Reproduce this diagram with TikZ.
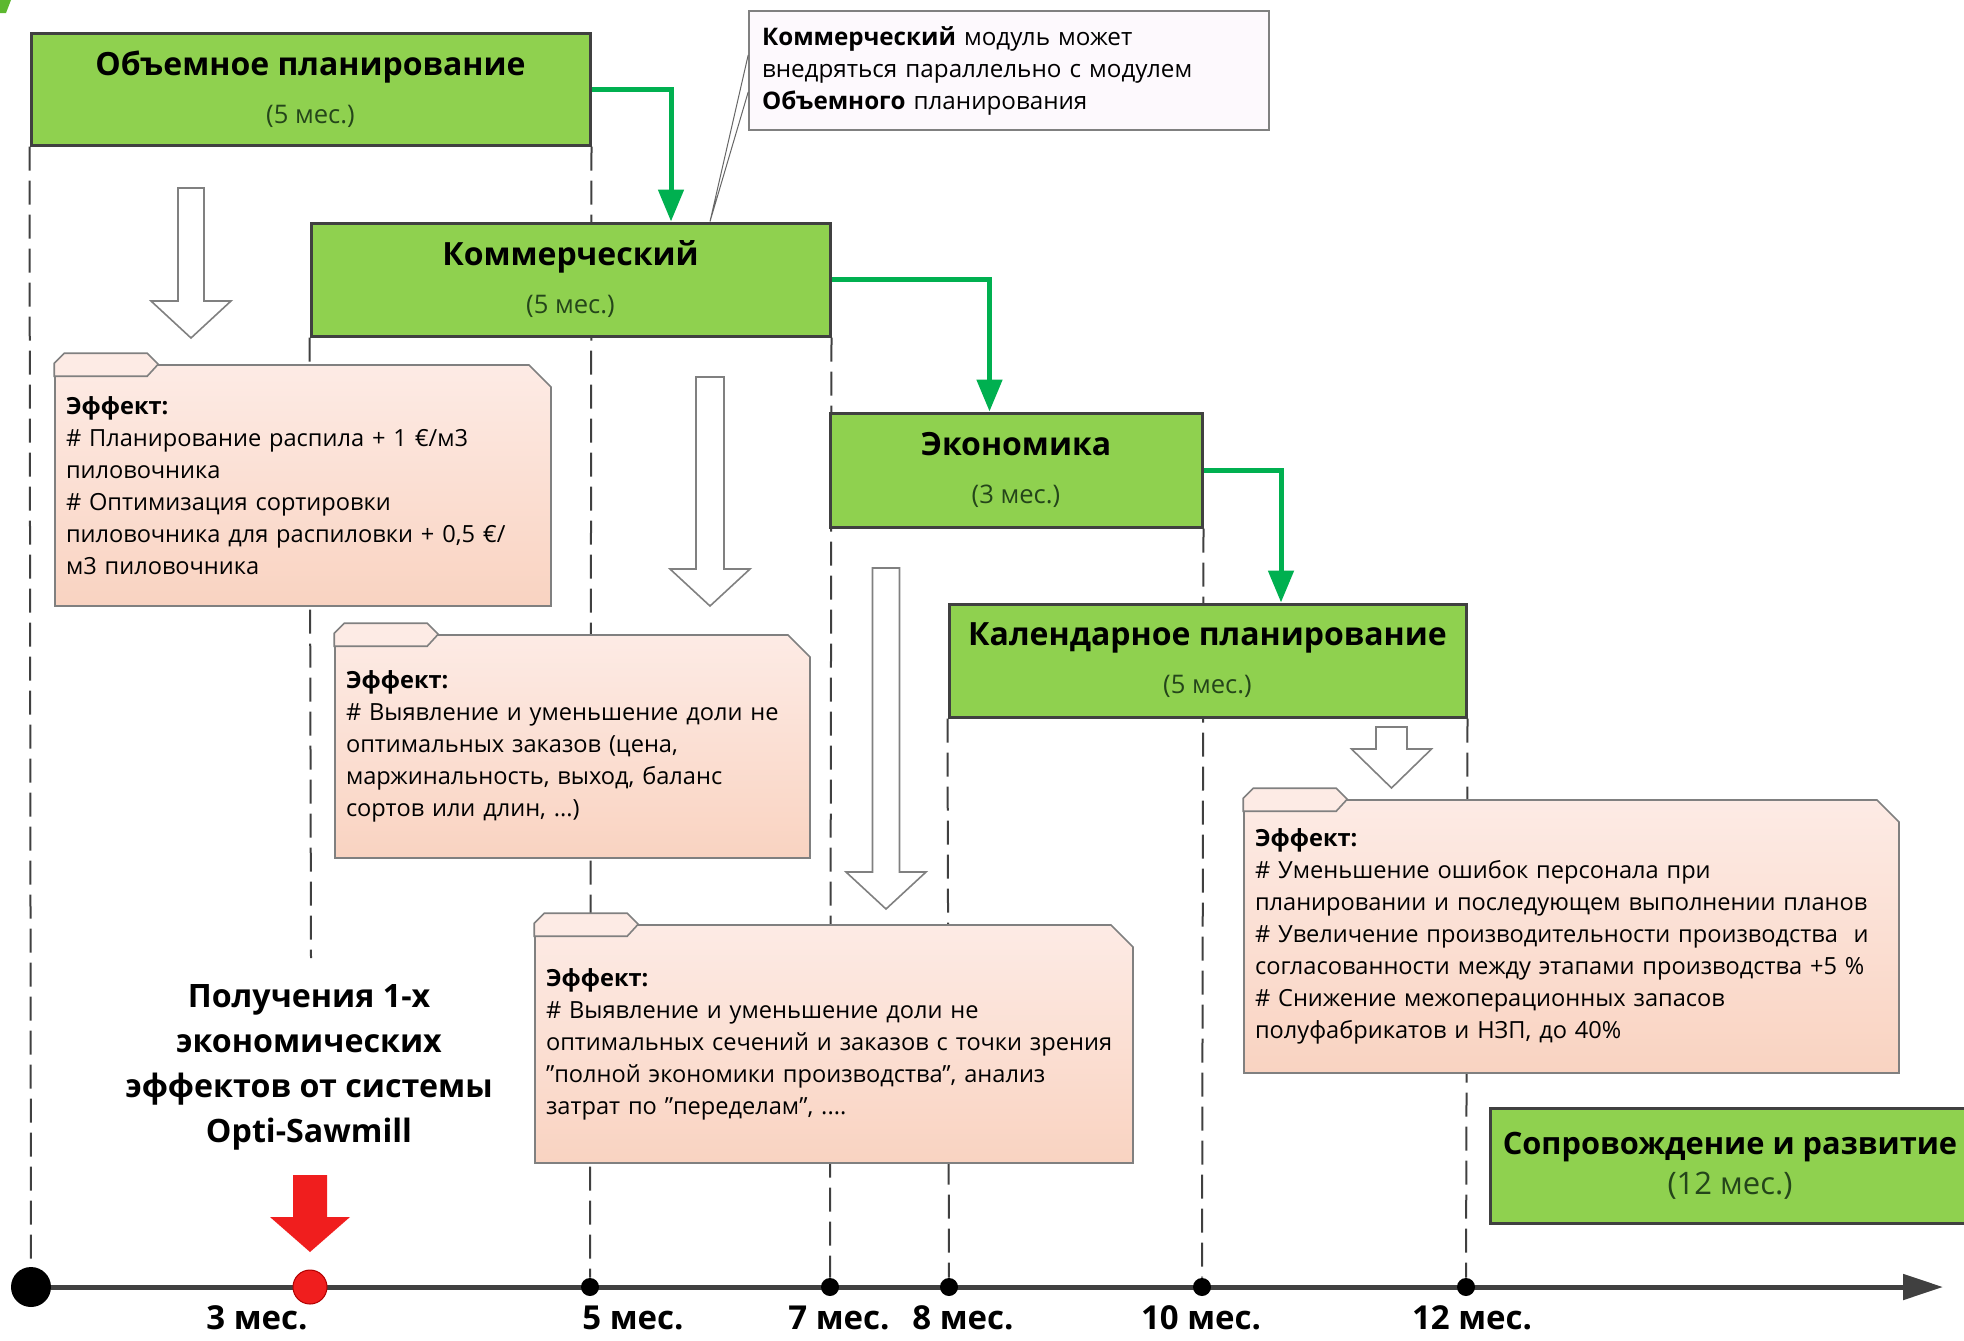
\documentclass[tikz,border=0pt]{standalone}
\usepackage{fontspec}
\setmainfont{Open Sans}
\usetikzlibrary{arrows.meta,shapes.misc,backgrounds}

\definecolor{boxgreen}{HTML}{8FD14F}
\definecolor{subgreen}{HTML}{24451A}
\definecolor{linkgreen}{HTML}{00B050}
\definecolor{cornergreen}{HTML}{5CB82F}
\definecolor{darkline}{HTML}{404040}
\definecolor{efftop}{HTML}{FDEBE5}
\definecolor{effbot}{HTML}{F9D3C1}
\definecolor{notefill}{HTML}{FDF9FD}
\definecolor{markred}{HTML}{F01E1E}

\newcommand{\modname}[1]{{\fontsize{16}{24}\selectfont\bfseries #1}}
\newcommand{\modtime}[1]{{\color{subgreen}\fontsize{12.8}{24}\selectfont #1}}

\tikzset{
  modbox/.style={draw=darkline, line width=1.5pt, fill=boxgreen, align=center,
    inner sep=0pt, font=\fontsize{12}{24}\selectfont},
  effect/.style={chamfered rectangle, chamfered rectangle corners=north east,
    chamfered rectangle xsep=5.5pt, chamfered rectangle ysep=5.5pt,
    draw=black!50, line width=0.8pt, top color=efftop, bottom color=effbot,
    align=left, inner sep=0pt,
    font=\fontsize{11.8}{16}\selectfont},
  effecttab/.style={draw=black!50, line width=0.8pt, fill=efftop},
  notebox/.style={draw=black!50, line width=0.8pt, fill=notefill, align=left,
    inner xsep=6.5pt, inner ysep=0pt, font=\fontsize{12.1}{16}\selectfont},
  calloutline/.style={draw=black!60, line width=0.5pt},
  phaseline/.style={draw=darkline, line width=1pt, dash pattern=on 12pt off 5pt},
  timeline/.style={draw=darkline, line width=2.5pt,
    -{Triangle[length=20pt,width=12.5pt]}},
  flow/.style={draw=linkgreen, line width=2.5pt,
    -{Triangle[length=16pt,width=12.5pt]}},
  hollow/.style={draw=black!50, line width=0.8pt, fill=white},
  tickdot/.style={circle, fill=black, inner sep=0pt, minimum size=9pt},
  monthlabel/.style={inner sep=0pt, font=\fontsize{16.5}{18}\selectfont\bfseries},
}

\begin{document}
\begin{tikzpicture}[x={(0.5pt,0)}, y={(0,-0.5pt)}]
  \useasboundingbox (0,0) rectangle (1964,1340);
  \fill[cornergreen] (0,0) -- (11,0) -- (6,13) -- (0,13) -- cycle;

  % modules
  \node[modbox, minimum width=279.5pt, minimum height=56pt] (obem) at (310.5,89)
    {\modname{Объемное планирование}\\\modtime{(5 мес.)}};
  \node[modbox, minimum width=259.5pt, minimum height=56.5pt] (kom) at (570.5,279.5)
    {\modname{Коммерческий}\\\modtime{(5 мес.)}};
  \node[modbox, minimum width=186pt, minimum height=57pt] (econ) at (1016,470)
    {\modname{Экономика}\\\modtime{(3 мес.)}};
  \node[modbox, minimum width=258.5pt, minimum height=56.5pt] (cal) at (1207.5,660.5)
    {\modname{Календарное планирование}\\\modtime{(5 мес.)}};
  \node[modbox, minimum width=240pt, minimum height=57.5pt] (sopr) at (1730,1165.5)
    {{\fontsize{15.4}{24}\selectfont\bfseries Сопровождение и развитие}\\[-4pt]{\color{subgreen}\fontsize{15.5}{24}\selectfont (12 мес.)}};

  \node[notebox, text width=247pt, minimum width=260pt, minimum height=59.5pt] (note) at (1009,70.5)
    {\textbf{Коммерческий} модуль может\\
     внедряться параллельно с модулем\\
     \textbf{Объемного} планирования};
  \draw[calloutline] ([yshift=7.75pt]note.west) -- ([xshift=69.75pt]kom.north)
    -- ([yshift=-10.75pt]note.west);

  % effects
  \node[effect, text width=237pt, minimum width=248pt, minimum height=120.5pt] (effplan) at (303,485.5)
    {\textbf{Эффект:}\\
     \# Планирование распила + 1 €/м3\\
     пиловочника\\
     \# Оптимизация сортировки\\
     пиловочника для распиловки + 0,5 €/\\
     м3 пиловочника};
  \node[effect, text width=226.5pt, minimum width=237.5pt, minimum height=111.5pt] (effkom) at (572.5,746.5)
    {\textbf{Эффект:}\\
     \# Выявление и уменьшение доли не\\
     оптимальных заказов (цена,\\
     маржинальность, выход, баланс\\
     сортов или длин, ...)};
  \node[effect, text width=288pt, minimum width=299pt, minimum height=119pt] (effecon) at (834,1044)
    {\textbf{Эффект:}\\
     \# Выявление и уменьшение доли не\\
     оптимальных сечений и заказов с точки зрения\\
     "полной экономики производства", анализ\\
     затрат по "переделам", ....};
  \node[effect, text width=316.5pt, minimum width=327.5pt, minimum height=136.5pt] (effcal) at (1571.5,936.5)
    {\textbf{Эффект:}\\
     \# Уменьшение ошибок персонала при\\
     планировании и последующем выполнении планов\\
     \# Увеличение производительности производства~ и\\
     согласованности между этапами производства +5~\%\\
     \# Снижение межоперационных запасов\\
     полуфабрикатов и НЗП, до 40\%};
  \foreach \e in {effplan, effkom, effecon, effcal} {
    \draw[effecttab] (\e.west |- \e.north) ++(0,12) -- ++(0,-13) -- ++(10,-10)
      -- ++(83,0) -- ++(11,11) -- ++(-11,12) -- cycle;
  }

  % hollow arrows
  \foreach \cx/\top/\neck/\tip/\sw in {191/188/301/338/13, 710/377/569/606/14,
                                       886/568/872/909/13.5, 1391.5/727/749/788/15.5} {
    \draw[hollow] (\cx-\sw,\top) -- (\cx+\sw,\top) -- (\cx+\sw,\neck) -- (\cx+40,\neck)
      -- (\cx,\tip) -- (\cx-40,\neck) -- (\cx-\sw,\neck) -- cycle;
  }

  % green links
  \draw[flow] (obem.east) -| ([xshift=50.25pt]kom.north);
  \draw[flow] (kom.east) -| ([xshift=-13.25pt]econ.north);
  \draw[flow] (econ.east) -| ([xshift=36.75pt]cal.north);

  % time axis
  \node[tickdot, minimum size=20pt] (t0) at (31,1287) {};
  \node[tickdot, fill=markred, draw=red!70!black, line width=0.5pt, minimum size=17pt] (t3) at (310,1287) {};
  \foreach \m/\x in {5/590, 7/830, 8/949, 10/1202, 12/1466} {
    \node[tickdot] (t\m) at (\x,1287) {};
  }
  \coordinate (tend) at (1943,1287);
  \coordinate (kstop) at (311,958);
  \foreach \m/\x in {3/257, 5/633, 7/839, 8/963, 10/1201, 12/1472} {
    \node[monthlabel] (l\m) at (\x,1318) {\m~мес.};
  }
  \fill[markred] (293,1175) -- (327,1175) -- (327,1217) -- (350,1217) -- (310,1252)
    -- (270,1217) -- (293,1217) -- cycle;
  \node[align=center, font=\fontsize{16.1}{22.5}\selectfont\bfseries] (gain) at (309,1067)
    {Получения 1-х\\ экономических\\ эффектов от системы\\ Opti-Sawmill};

  \begin{scope}[on background layer]
    \draw[phaseline] (obem.south west) -- (t0);
    \draw[phaseline] (obem.south east) -- (t5);
    \draw[phaseline] (kom.south west) -- (kstop);
    \draw[phaseline] (kom.south east) -- (t7);
    \draw[phaseline] (cal.south west) -- (t8);
    \draw[phaseline] (econ.south east) -- (t10);
    \draw[phaseline] (cal.south east) -- (t12);
    \draw[timeline] (t0) -- (tend);
  \end{scope}
\end{tikzpicture}
\end{document}
